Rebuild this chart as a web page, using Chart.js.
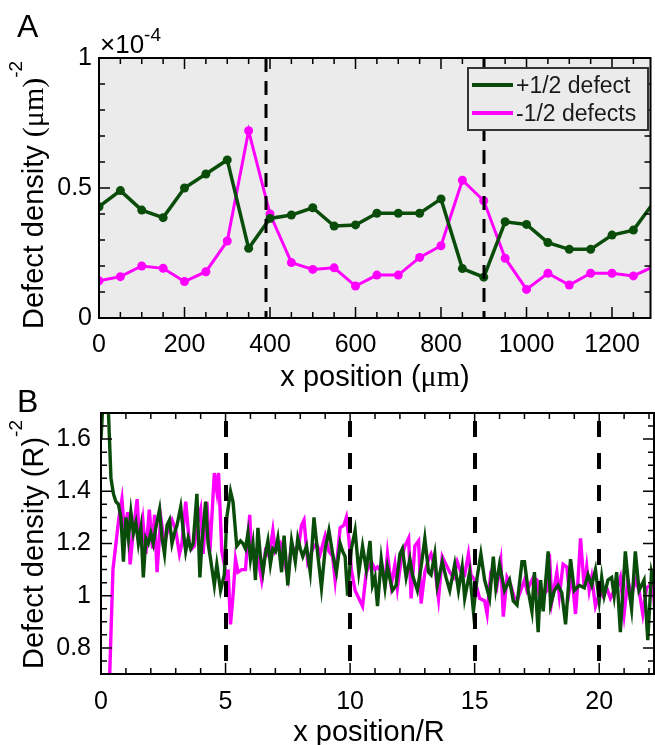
<!DOCTYPE html>
<html><head><meta charset="utf-8">
<script src="https://cdn.jsdelivr.net/npm/chart.js@4/dist/chart.umd.min.js"></script>
<style>
html,body{margin:0;padding:0;background:#fff;width:655px;height:745px;overflow:hidden}
#ca{position:absolute;left:0;top:0}
#cb{position:absolute;left:0;top:380px}
</style></head><body>
<canvas id="ca" width="655" height="400"></canvas>
<canvas id="cb" width="655" height="365"></canvas>
<script>
// ---------- Panel A data ----------
const aX = [0,50,100,150,200,250,300,350,400,450,500,550,600,650,700,750,800,850,900,950,1000,1050,1100,1150,1200,1250,1300];
const aPlus = [0.428,0.49,0.415,0.386,0.50,0.554,0.608,0.268,0.383,0.396,0.424,0.354,0.358,0.403,0.403,0.403,0.458,0.19,0.157,0.37,0.36,0.29,0.264,0.264,0.319,0.338,0.45];
const aMinus = [0.143,0.159,0.20,0.191,0.14,0.178,0.296,0.72,0.40,0.213,0.187,0.193,0.123,0.165,0.165,0.233,0.278,0.53,0.451,0.23,0.11,0.172,0.127,0.172,0.172,0.162,0.2];
const aXTicks = [0,200,400,600,800,1000,1200];
const aYTicks = [0,0.5,1];
const aDashes = [390,900];
const seriesNames = ['+1/2 defect','-1/2 defects'];

// ---------- Panel B data ----------
const bPlusX = [0,0.1,0.2,0.3,0.4,0.5,0.6,0.7,0.8,0.9,1.0,1.1,1.2,1.3,1.4,1.5,1.6,1.7,1.8,1.9,2.0,2.1,2.2,2.35,2.45,2.55,2.65,2.75,2.85,2.95,3.05,3.2,3.3,3.4,3.5,3.6,3.7,3.85,3.97,4.05,4.2,4.3,4.4,4.55,4.65,4.8,4.95,5.05,5.2,5.3,5.45,5.6,5.7,5.8,5.9,6.0,6.1,6.2,6.3,6.4,6.5,6.6,6.7,6.8,6.9,7.0,7.1,7.25,7.35,7.5,7.65,7.8,7.9,8.0,8.1,8.25,8.4,8.55,8.7,8.85,9.0,9.15,9.3,9.45,9.6,9.7,9.8,9.9,10.05,10.2,10.35,10.5,10.65,10.8,10.9,11.0,11.1,11.25,11.4,11.5,11.7,11.85,12.0,12.1,12.25,12.4,12.5,12.7,12.85,13.0,13.15,13.25,13.4,13.5,13.7,13.85,14.0,14.2,14.35,14.5,14.6,14.8,14.95,15.1,15.25,15.4,15.6,15.75,15.85,16.0,16.2,16.4,16.55,16.7,16.9,17.0,17.15,17.3,17.4,17.55,17.65,17.75,17.95,18.05,18.2,18.35,18.5,18.65,18.8,18.85,19.0,19.2,19.4,19.55,19.7,19.85,20.0,20.1,20.2,20.35,20.5,20.6,20.7,20.85,21.05,21.2,21.3,21.45,21.6,21.8,21.95,22.1,22.25];
const bPlusY = [1.6,1.78,1.76,1.7,1.45,1.39,1.36,1.35,1.3,1.13,1.3,1.22,1.32,1.24,1.28,1.2,1.26,1.07,1.22,1.2,1.24,1.2,1.26,1.33,1.22,1.16,1.27,1.29,1.2,1.24,1.27,1.34,1.25,1.17,1.22,1.18,1.2,1.39,1.07,1.2,1.36,1.2,1.14,1.04,1.12,1.02,1.08,1.3,1.4,1.36,1.19,1.21,1.2,1.18,1.24,1.14,1.2,1.06,1.26,1.15,1.09,1.16,1.21,1.12,1.18,1.17,1.22,1.09,1.23,1.04,1.21,1.13,1.22,1.18,1.15,1.19,1.09,1.3,1.16,1.03,1.18,1.25,1.16,1.09,1.2,1.17,1.15,1.0,1.18,1.25,1.09,1.19,1.1,1.21,1.04,1.07,0.96,1.14,1.03,1.11,1.02,1.04,1.16,1.18,1.07,1.14,1.08,1.02,1.11,1.22,1.09,1.08,1.16,1.04,1.13,1.07,1.02,1.12,1.02,1.11,0.99,1.09,0.94,1.07,1.16,1.06,0.99,1.15,1.03,1.12,1.02,1.06,0.98,0.965,1.13,1.13,1.02,0.94,1.09,0.86,1.06,0.94,1.17,0.965,1.02,1.04,1.01,0.89,1.08,1.14,1.02,1.04,1.03,1.08,1.04,1.1,0.98,1.07,1.0,1.06,1.07,1.0,1.09,0.86,1.17,1.02,0.95,1.17,1.02,1.06,0.83,1.09,1.03];
const bMinusX = [0.0,0.2,0.35,0.48,0.6,0.72,0.84,0.95,1.07,1.17,1.3,1.45,1.55,1.68,1.8,1.94,2.07,2.15,2.25,2.4,2.55,2.7,2.85,3.0,3.15,3.25,3.4,3.55,3.65,3.75,3.85,4.0,4.1,4.25,4.37,4.45,4.55,4.65,4.72,4.85,4.95,5.05,5.1,5.2,5.3,5.4,5.5,5.65,5.8,5.97,6.05,6.2,6.3,6.45,6.6,6.75,6.9,7.0,7.2,7.35,7.5,7.65,7.8,7.95,8.05,8.15,8.3,8.5,8.65,8.8,9.0,9.15,9.3,9.4,9.6,9.75,9.85,9.95,10.05,10.2,10.35,10.5,10.65,10.85,11.0,11.1,11.3,11.4,11.5,11.65,11.8,11.9,12.05,12.2,12.35,12.45,12.6,12.75,12.85,13.0,13.15,13.25,13.4,13.55,13.7,13.85,14.0,14.15,14.3,14.45,14.6,14.75,14.85,15.0,15.2,15.4,15.5,15.65,15.75,15.9,16.05,16.15,16.3,16.45,16.6,16.7,16.85,17.0,17.1,17.25,17.35,17.5,17.6,17.75,17.9,18.0,18.1,18.3,18.4,18.55,18.7,18.8,18.9,19.05,19.15,19.25,19.4,19.5,19.6,19.7,19.85,20.05,20.15,20.3,20.45,20.6,20.75,20.85,21.0,21.15,21.3,21.45,21.6,21.75,21.9,22.05,22.15,22.25];
const bMinusY = [0.2,0.45,0.7,1.1,1.2,1.3,1.37,1.24,1.32,1.12,1.25,1.37,1.2,1.29,1.16,1.33,1.18,1.31,1.09,1.3,1.2,1.26,1.29,1.25,1.16,1.2,1.36,1.2,1.18,1.19,1.27,1.33,1.16,1.36,1.17,1.3,1.47,1.4,1.47,1.17,1.12,1.05,1.1,0.89,1.0,1.14,1.09,1.1,1.1,1.31,1.15,1.17,1.14,1.06,1.17,1.15,1.25,1.17,1.2,1.14,1.07,1.2,1.16,1.2,1.27,1.29,1.13,1.18,1.2,1.16,1.23,1.17,1.15,1.06,1.26,1.27,1.3,1.22,1.1,1.02,0.99,0.96,1.09,1.13,1.1,1.11,1.09,1.05,1.16,1.04,1.12,1.03,1.14,1.19,1.22,0.99,1.19,1.21,0.97,1.09,1.14,1.16,1.11,0.99,1.15,1.12,1.09,1.07,1.13,1.09,1.08,1.16,1.08,1.06,0.99,0.98,0.93,1.09,1.11,1.04,1.13,0.92,1.07,1.04,0.99,0.98,1.02,1.06,1.02,1.05,1.07,1.06,1.0,1.0,1.02,1.16,0.98,1.09,1.0,1.12,1.11,1.02,1.08,0.93,1.06,1.22,1.03,1.11,1.02,1.07,0.96,1.02,1.0,1.03,0.99,1.02,1.04,1.07,0.93,1.06,1.0,1.06,1.02,0.93,1.03,1.04,1.06,0.92];
const bXTicks = [0,5,10,15,20];
const bYTicks = [0.8,1,1.2,1.4,1.6];
const bDashes = [5,10,15,20];

const GREEN = '#0a4d0a', MAGENTA = '#ff00ff';
const SANS = '"Liberation Sans", Arial, sans-serif';
const SERIF = '"Liberation Serif", "Times New Roman", serif';

function pts(xs, ys){ return xs.map((x,i)=>({x:x, y:ys[i]})); }

function drawSeq(ctx, parts, x, y){
  let cx = x;
  for (const p of parts){
    ctx.font = p[1];
    ctx.fillText(p[0], cx, y + (p[2]||0));
    cx += ctx.measureText(p[0]).width;
  }
  return cx - x;
}
function seqWidth(ctx, parts){
  let w=0; for(const p of parts){ctx.font=p[1]; w+=ctx.measureText(p[0]).width;} return w;
}

const deco = {
  id: 'deco',
  beforeDraw(chart, args, o){
    if (o.bg){
      const a = chart.chartArea, ctx = chart.ctx;
      ctx.save(); ctx.fillStyle = o.bg;
      ctx.fillRect(a.left, a.top, a.right-a.left, a.bottom-a.top);
      ctx.restore();
    }
  },
  afterDatasetsDraw(chart, args, o){
    const a = chart.chartArea, ctx = chart.ctx, xs = chart.scales.x;
    ctx.save();
    ctx.strokeStyle = '#000'; ctx.lineWidth = o.dashWidth; ctx.setLineDash(o.dash);
    ctx.lineDashOffset = o.dashOffset;
    for (const v of o.dashes){
      const px = Math.round(xs.getPixelForValue(v));
      ctx.beginPath(); ctx.moveTo(px, a.top); ctx.lineTo(px, a.bottom); ctx.stroke();
    }
    ctx.restore();
  },
  afterDraw(chart, args, o){
    const a = chart.chartArea, ctx = chart.ctx, xs = chart.scales.x, ys = chart.scales.y;
    ctx.save();
    ctx.strokeStyle = '#000'; ctx.lineWidth = 1.5; ctx.setLineDash([]);
    const isMaj = (v, m) => Math.abs(Math.round(v*1000) % Math.round(m*1000)) === 0;
    let n = Math.round((xs.max - o.xStart)/o.xMinor + 1e-6);
    for (let k=0;k<=n;k++){
      const v = o.xStart + k*o.xMinor; if (v > xs.max+1e-9) break;
      const L = isMaj(v, o.xMajor) ? 11 : 6;
      const px = xs.getPixelForValue(v);
      ctx.beginPath(); ctx.moveTo(px,a.bottom); ctx.lineTo(px,a.bottom-L);
      ctx.moveTo(px,a.top); ctx.lineTo(px,a.top+L); ctx.stroke();
    }
    n = Math.round((ys.max - ys.min)/o.yMinor + 1e-6);
    for (let k=0;k<=n;k++){
      const v = ys.min + k*o.yMinor;
      const L = isMaj(v, o.yMajor) ? 11 : 6;
      const py = ys.getPixelForValue(v);
      ctx.beginPath(); ctx.moveTo(a.left,py); ctx.lineTo(a.left+L,py);
      ctx.moveTo(a.right,py); ctx.lineTo(a.right-L,py); ctx.stroke();
    }
    ctx.lineWidth = 2;
    ctx.strokeRect(a.left, a.top, a.right-a.left, a.bottom-a.top);

    ctx.fillStyle = '#000';
    ctx.textBaseline = 'alphabetic'; ctx.textAlign = 'left';
    ctx.font = '32px ' + SANS;
    ctx.fillText(o.letter, o.letterX, o.letterY);
    if (o.expo){
      drawSeq(ctx, [['\u00d710','26px '+SANS,0],['-4','19px '+SANS,-12]], 100, 53);
    }
    const xt = o.xTitle.map(p=>[p[0], p[1]==='serif' ? '30px '+SERIF : '29px '+SANS, 0]);
    const w = seqWidth(ctx, xt);
    drawSeq(ctx, xt, o.xTitleX - w/2, o.xTitleY);
    ctx.save();
    ctx.translate(o.yTitleX, o.yTitleY);
    ctx.rotate(-Math.PI/2);
    const yt = o.yTitle.map(p=>[p[0], p[1]==='serif' ? '30px '+SERIF : (p[1]==='sup' ? '19px '+SANS : '29px '+SANS), p[1]==='sup' ? -21 : 0]);
    drawSeq(ctx, yt, 0, 0);
    ctx.restore();
    if (o.legend){
      const L = o.legend;
      ctx.fillStyle = '#ebebeb';
      ctx.fillRect(L.x, L.y, L.w, L.h);
      ctx.strokeStyle = '#333'; ctx.lineWidth = 2;
      ctx.strokeRect(L.x, L.y, L.w, L.h);
      const cols = [GREEN, MAGENTA];
      ctx.font = '23px ' + SANS; ctx.textBaseline = 'middle';
      L.names.forEach((nm,i)=>{
        const yy = L.y + 17 + i*28;
        ctx.strokeStyle = cols[i]; ctx.lineWidth = 4;
        ctx.beginPath(); ctx.moveTo(L.x+4, yy); ctx.lineTo(L.x+45, yy); ctx.stroke();
        ctx.fillStyle = '#1a1a1a';
        ctx.fillText(nm, L.x+48, yy+2);
      });
    }
    ctx.restore();
  }
};

function tickFont(){ return {family: SANS, size: 25}; }

const chartA = new Chart(document.getElementById('ca'), {
  type: 'line',
  data: {
    datasets: [
      {label: seriesNames[0], data: pts(aX, aPlus), borderColor: GREEN, backgroundColor: GREEN,
       borderWidth: 3.5, pointRadius: 4.5, pointBorderWidth: 0, pointBackgroundColor: GREEN, tension: 0},
      {label: seriesNames[1], data: pts(aX, aMinus), borderColor: MAGENTA, backgroundColor: MAGENTA,
       borderWidth: 3, pointRadius: 4.5, pointBorderWidth: 0, pointBackgroundColor: MAGENTA, tension: 0}
    ]
  },
  options: {
    responsive: false, animation: false, devicePixelRatio: 1,
    layout: {padding: {top: 58, right: 1, left: 0, bottom: 0}},
    plugins: {
      legend: {display: false}, tooltip: {enabled: false},
      deco: {
        bg: '#ebebeb', dashes: aDashes, dash: [14, 9], dashWidth: 3, dashOffset: 0,
        xStart: 0, xMinor: 50, xMajor: 200, yMinor: 0.1, yMajor: 0.5,
        letter: 'A', letterX: 17, letterY: 37, expo: true,
        xTitle: [['x position (', 'sans'], ['\u03bcm', 'serif'], [')', 'sans']],
        xTitleX: 375, xTitleY: 386,
        yTitle: [['Defect density ', 'sans'], ['(\u03bcm)', 'serif'], ['-2', 'sup']],
        yTitleX: 43, yTitleY: 329,
        legend: {x: 468, y: 68, w: 180, h: 62, names: seriesNames}
      }
    },
    scales: {
      x: {type: 'linear', min: 0, max: 1290,
          afterFit: s => { s.height = 82; },
          afterBuildTicks: s => { s.ticks = aXTicks.map(v => ({value: v})); },
          ticks: {font: tickFont(), color: '#000', padding: 12, autoSkip: false, maxRotation: 0,
                  callback: v => String(v)},
          grid: {display: false, drawTicks: false}, border: {display: false}},
      y: {type: 'linear', min: 0, max: 1,
          afterFit: s => { s.width = 99; },
          afterBuildTicks: s => { s.ticks = aYTicks.map(v => ({value: v})); },
          ticks: {font: tickFont(), color: '#000', padding: 7, callback: v => String(+(+v).toFixed(2))},
          grid: {display: false, drawTicks: false}, border: {display: false}}
    }
  },
  plugins: [deco]
});

const chartB = new Chart(document.getElementById('cb'), {
  type: 'line',
  data: {
    datasets: [
      {label: seriesNames[0], data: pts(bPlusX, bPlusY), borderColor: GREEN, borderWidth: 3.4,
       pointRadius: 0, tension: 0},
      {label: seriesNames[1], data: pts(bMinusX, bMinusY), borderColor: MAGENTA, borderWidth: 3.4,
       pointRadius: 0, tension: 0}
    ]
  },
  options: {
    responsive: false, animation: false, devicePixelRatio: 1,
    layout: {padding: {top: 33, right: 1, left: 0, bottom: 0}},
    plugins: {
      legend: {display: false}, tooltip: {enabled: false},
      deco: {
        bg: null, dashes: bDashes, dash: [16, 16], dashWidth: 4, dashOffset: -8,
        xStart: 0, xMinor: 1, xMajor: 5, yMinor: 0.05, yMajor: 0.2,
        letter: 'B', letterX: 17, letterY: 32, expo: false,
        xTitle: [['x position/R', 'sans']],
        xTitleX: 369, xTitleY: 361,
        yTitle: [['Defect density (R)', 'sans'], ['-2', 'sup']],
        yTitleX: 43, yTitleY: 289,
        legend: null
      }
    },
    scales: {
      x: {type: 'linear', min: 0, max: 22.2,
          afterFit: s => { s.height = 71; },
          afterBuildTicks: s => { s.ticks = bXTicks.map(v => ({value: v})); },
          ticks: {font: tickFont(), color: '#000', padding: 13, autoSkip: false, maxRotation: 0,
                  callback: v => String(v)},
          grid: {display: false, drawTicks: false}, border: {display: false}},
      y: {type: 'linear', min: 0.7, max: 1.7,
          afterFit: s => { s.width = 101; },
          afterBuildTicks: s => { s.ticks = bYTicks.map(v => ({value: v})); },
          ticks: {font: tickFont(), color: '#000', padding: 10, callback: v => String(+(+v).toFixed(2))},
          grid: {display: false, drawTicks: false}, border: {display: false}}
    }
  },
  plugins: [deco]
});
</script>
</body></html>
